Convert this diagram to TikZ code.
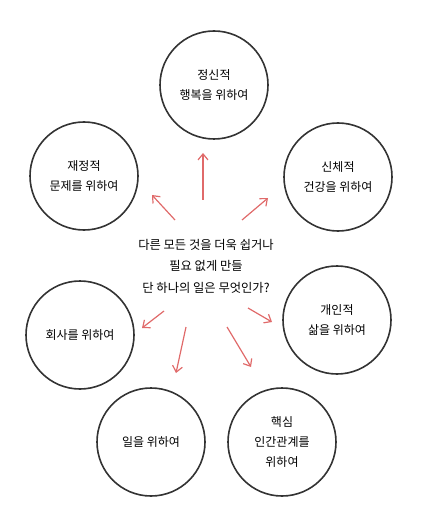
\documentclass[tikz,border=0pt]{standalone}
\usepackage{fontspec}
\newfontfamily\kr{Noto Sans CJK KR}
\usetikzlibrary{arrows.meta}
\definecolor{ink}{HTML}{333333}
\definecolor{pen}{HTML}{E06A6A}
\tikzset{
  goal/.style={
    draw=ink, circle, minimum size=108pt, inner sep=0pt, line width=1.6pt,
    align=center, font=\kr\fontsize{12}{20}\selectfont
  },
  ask/.style={
    align=center, inner sep=0pt, font=\kr\fontsize{12.3}{21.5}\selectfont
  },
  arr/.style={
    -{Straight Barb[length=6pt,width=10pt]}, draw=pen, line width=1.2pt
  }
}
\begin{document}
\begin{tikzpicture}[x=1pt,y=-1pt]
   \useasboundingbox (0,0) rectangle (423,518);
   \node[goal] (jeongsin) at (214, 85) {정신적\\행복을 위하여};
   \node[goal] (jaejeong) at (84, 176) {재정적\\문제를 위하여};
   \node[goal] (sinche) at (338, 177) {신체적\\건강을 위하여};
   \node[goal] (hoesa) at (80, 335) {회사를 위하여};
   \node[goal] (gaein) at (337, 320) {개인적\\삶을 위하여};
   \node[goal] (il) at (151, 442) {일을 위하여};
   \node[goal] (ingan) at (282, 442) {핵심\\인간관계를\\위하여};
   \node[ask] (q) at (206, 266) {다른 모든 것을 더욱 쉽거나\\필요 없게 만들\\단 하나의 일은 무엇인가?};

   \coordinate (t1) at (203, 200); \coordinate (h1) at (203, 153);
   \coordinate (t2) at (175, 220); \coordinate (h2) at (152, 195);
   \coordinate (t3) at (242, 220); \coordinate (h3) at (268, 198);
   \coordinate (t4) at (164, 311); \coordinate (h4) at (142, 328);
   \coordinate (t5) at (186, 327); \coordinate (h5) at (176, 373);
   \coordinate (t6) at (227, 327); \coordinate (h6) at (251, 367);
   \coordinate (t7) at (248, 308); \coordinate (h7) at (272, 322);

   \draw[arr] (t1) -- (h1);
   \draw[arr] (t2) -- (h2);
   \draw[arr] (t3) -- (h3);
   \draw[arr] (t4) -- (h4);
   \draw[arr] (t5) -- (h5);
   \draw[arr] (t6) -- (h6);
   \draw[arr] (t7) -- (h7);
\end{tikzpicture}
\end{document}
